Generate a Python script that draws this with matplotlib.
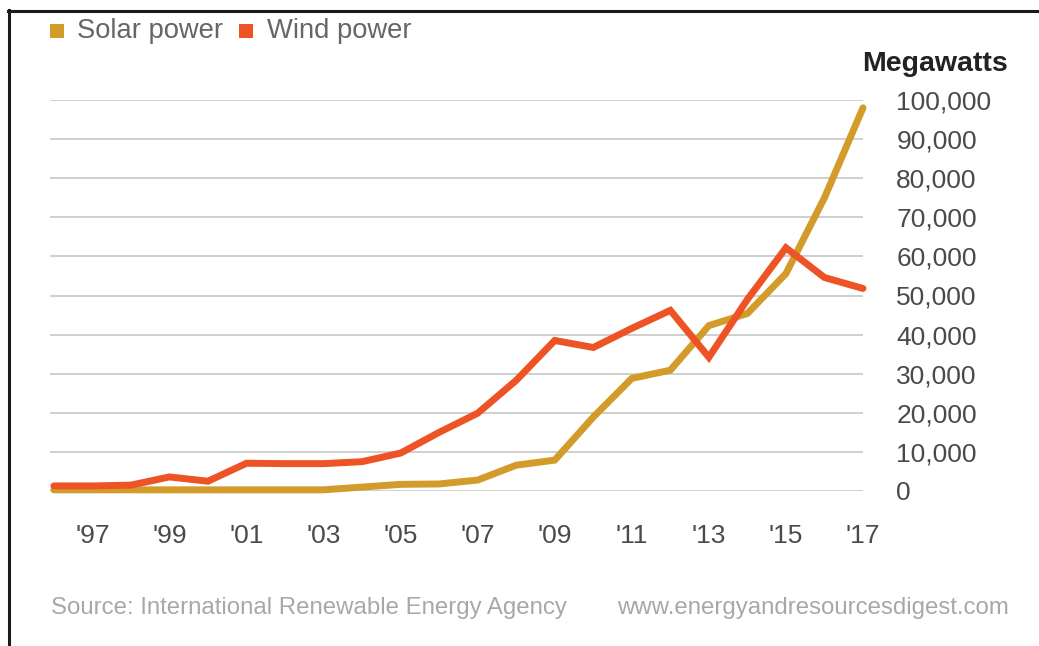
import matplotlib
matplotlib.use("Agg")
import matplotlib.pyplot as plt
from matplotlib.patches import Rectangle
from matplotlib.lines import Line2D

plt.rcParams['font.family'] = ['Liberation Sans', 'DejaVu Sans']

years = list(range(1996, 2018))
solar = [300, 300, 300, 300, 300, 300, 300, 300, 1000, 1700, 1800, 2800,
         6600, 7900, 18900, 28800, 30900, 42300, 45400, 55600, 75000, 98000]
wind = [1300, 1300, 1500, 3600, 2500, 7100, 7000, 7000, 7500, 9700, 15000,
        19900, 28300, 38500, 36700, 41600, 46200, 34200, 49000, 62200, 54600, 51800]
series_names = ["Solar power", "Wind power"]
series_colors = ["#D39B2A", "#EE5325"]
xtick_years = list(range(1997, 2018, 2))
xtick_labels = ["'" + str(y)[2:] for y in xtick_years]
ytick_vals = list(range(0, 100001, 10000))
ytick_labels = [f"{v:,}" for v in ytick_vals]

W, H = 1039, 646
fig = plt.figure(figsize=(W / 100, H / 100), dpi=100)
fig.patch.set_facecolor("white")

left_px, right_px, bottom_px, top_px = 50, 863, 491, 100
ax = fig.add_axes([left_px / W, 1 - bottom_px / H,
                   (right_px - left_px) / W, (bottom_px - top_px) / H])
ax.set_xlim(1995.9, 2017)
ax.set_ylim(0, 100000)

for v in ytick_vals:
    ax.axhline(v, color="#cfcfcf", lw=1.4, zorder=1)

ax.plot(years, solar, color=series_colors[0], lw=5, solid_capstyle="round",
        solid_joinstyle="miter", clip_on=False, zorder=3)
ax.plot(years, wind, color=series_colors[1], lw=5, solid_capstyle="round",
        solid_joinstyle="miter", clip_on=False, zorder=4)

for s in ax.spines.values():
    s.set_visible(False)
ax.yaxis.tick_right()
ax.set_yticks(ytick_vals)
ax.set_yticklabels(ytick_labels)
ax.set_xticks(xtick_years)
ax.set_xticklabels(xtick_labels)
ax.tick_params(axis="y", length=0, pad=24, labelsize=19, labelcolor="#4a4a4a")
ax.tick_params(axis="x", length=0, pad=24, labelsize=19, labelcolor="#4a4a4a")

fig.text(1008 / W, 1 - 64 / H, "Megawatts", ha="right", va="center",
         fontsize=20.5, fontweight="bold", color="#222222")

# legend
leg_y = 1 - 31 / H
sq = 14
for xpx_sq, xpx_txt, name, col in [(50, 77, series_names[0], series_colors[0]),
                                    (239, 267, series_names[1], series_colors[1])]:
    fig.patches.append(Rectangle((xpx_sq / W, 1 - 38 / H), sq / W, sq / H,
                                 transform=fig.transFigure, facecolor=col,
                                 edgecolor="none"))
    fig.text(xpx_txt / W, leg_y, name, ha="left", va="center", fontsize=19.7,
             color="#666666")

fig.text(51 / W, 1 - 608 / H, "Source: International Renewable Energy Agency",
         ha="left", va="center", fontsize=17.3, color="#a8a8a8")
fig.text(1009 / W, 1 - 608 / H, "www.energyandresourcesdigest.com",
         ha="right", va="center", fontsize=17.3, color="#a8a8a8")

# frame lines (top and left)
fig.add_artist(Line2D([8 / W, 1], [1 - 11 / H, 1 - 11 / H], transform=fig.transFigure,
                      color="#1a1a1a", lw=2.2))
fig.add_artist(Line2D([8.5 / W, 8.5 / W], [1 - 10 / H, 0], transform=fig.transFigure,
                      color="#1a1a1a", lw=2.2))

fig.savefig("out.png", dpi=100, facecolor="white")
